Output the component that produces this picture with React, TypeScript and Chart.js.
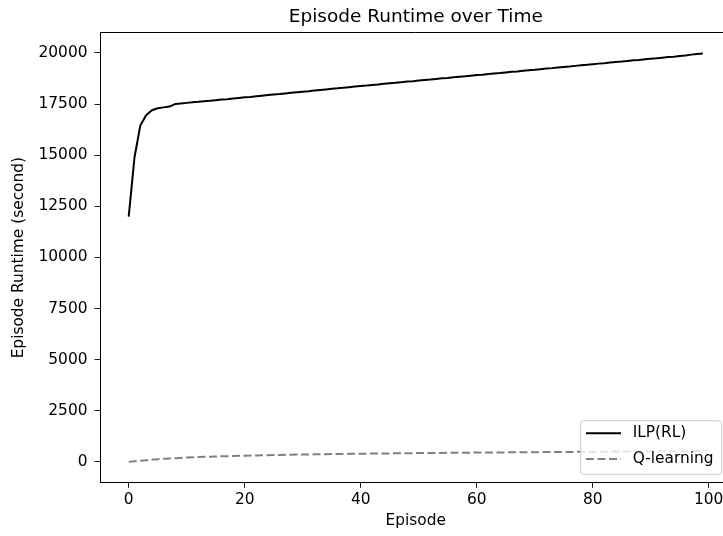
import React, { useEffect, useRef } from "react";
import { Chart, registerables } from "chart.js";

Chart.register(...registerables);

const chartTitle = "Episode Runtime over Time";
const xAxisTitle = "Episode";
const yAxisTitle = "Episode Runtime (second)";
const seriesNames = ["ILP(RL)", "Q-learning"];

// Episode runtime per episode (index = episode number 0..99)
const ilpRuntime = [
  12000, 14900, 16450, 16950, 17200, 17300, 17340, 17380, 17500, 17530,
  17560, 17590, 17610, 17640, 17660, 17690, 17720, 17740, 17770, 17800,
  17830, 17850, 17880, 17910, 17940, 17970, 17990, 18020, 18050, 18080,
  18110, 18130, 18160, 18190, 18220, 18250, 18270, 18300, 18330, 18360,
  18390, 18410, 18440, 18460, 18490, 18520, 18540, 18570, 18600, 18620,
  18650, 18680, 18700, 18730, 18760, 18780, 18810, 18840, 18860, 18890,
  18920, 18940, 18970, 19000, 19020, 19050, 19080, 19100, 19130, 19160,
  19180, 19210, 19240, 19260, 19290, 19320, 19340, 19370, 19400, 19420,
  19450, 19480, 19500, 19530, 19560, 19580, 19610, 19640, 19660, 19690,
  19720, 19740, 19770, 19800, 19820, 19850, 19880, 19920, 19950, 19980,
];

const qRuntime = [
  0, 30, 60, 85, 110, 130, 150, 165, 180, 195,
  210, 222, 235, 245, 255, 265, 273, 281, 290, 298,
  305, 311, 317, 323, 329, 335, 340, 345, 350, 355,
  360, 364, 368, 372, 376, 380, 384, 388, 392, 396,
  400, 403, 406, 409, 412, 415, 418, 421, 424, 427,
  430, 432, 435, 437, 440, 442, 445, 447, 450, 452,
  455, 457, 459, 461, 463, 465, 467, 469, 471, 473,
  475, 477, 479, 481, 483, 485, 487, 489, 491, 493,
  495, 497, 499, 501, 503, 505, 507, 509, 511, 513,
  515, 517, 518, 520, 521, 523, 525, 526, 528, 530,
];

const xTickValues = [0, 20, 40, 60, 80, 100];
const yTickValues = [0, 2500, 5000, 7500, 10000, 12500, 15000, 17500, 20000];

const xMin = -4.95;
const xMax = 103.95;
const yMin = -999;
const yMax = 20978;

const FONT = "'DejaVu Sans', sans-serif";

export default function App() {
  const ref = useRef<HTMLCanvasElement>(null);

  useEffect(() => {
    const canvas = ref.current;
    if (!canvas) return;

    const framePlugin = {
      id: "frame",
      afterDatasetsDraw(chart: any) {
        const { ctx, chartArea } = chart;
        const t = Math.round(chartArea.top) - 0.5;
        const r = Math.round(chartArea.right) - 0.5;
        ctx.save();
        ctx.strokeStyle = "#000";
        ctx.lineWidth = 1;
        ctx.beginPath();
        ctx.moveTo(chartArea.left, t);
        ctx.lineTo(r, t);
        ctx.lineTo(r, chartArea.bottom);
        ctx.stroke();
        ctx.restore();
      },
    };

    const legendPlugin = {
      id: "mplLegend",
      afterDraw(chart: any) {
        const { ctx, chartArea } = chart;
        const w = 141;
        const h = 53.6;
        const right = chartArea.right - 9.9;
        const bottom = chartArea.bottom - 8;
        const left = right - w;
        const top = bottom - h;
        const r = 3;
        ctx.save();
        ctx.beginPath();
        ctx.moveTo(left + r, top);
        ctx.lineTo(right - r, top);
        ctx.quadraticCurveTo(right, top, right, top + r);
        ctx.lineTo(right, bottom - r);
        ctx.quadraticCurveTo(right, bottom, right - r, bottom);
        ctx.lineTo(left + r, bottom);
        ctx.quadraticCurveTo(left, bottom, left, bottom - r);
        ctx.lineTo(left, top + r);
        ctx.quadraticCurveTo(left, top, left + r, top);
        ctx.closePath();
        ctx.fillStyle = "rgba(255,255,255,0.8)";
        ctx.fill();
        ctx.strokeStyle = "#cccccc";
        ctx.lineWidth = 1;
        ctx.stroke();

        const rows = [top + 12.6, top + 38.3];
        chart.data.datasets.forEach((ds: any, i: number) => {
          const y = rows[i];
          ctx.beginPath();
          ctx.setLineDash(ds.borderDash || []);
          ctx.strokeStyle = ds.borderColor;
          ctx.lineWidth = ds.borderWidth;
          ctx.moveTo(left + 5.3, y);
          ctx.lineTo(left + 40.3, y);
          ctx.stroke();
          ctx.setLineDash([]);
          ctx.fillStyle = "#000";
          ctx.font = `15.4px ${FONT}`;
          ctx.textBaseline = "middle";
          ctx.textAlign = "left";
          ctx.fillText(ds.label, left + 52, y);
        });
        ctx.restore();
      },
    };

    const tickFont = { family: FONT, size: 15.4 };

    const chart = new Chart(canvas, {
      type: "line",
      data: {
        datasets: [
          {
            label: seriesNames[0],
            data: ilpRuntime.map((v, i) => ({ x: i, y: v })),
            borderColor: "#000000",
            borderWidth: 2,
            pointRadius: 0,
            fill: false,
            tension: 0,
            borderJoinStyle: "round",
          },
          {
            label: seriesNames[1],
            data: qRuntime.map((v, i) => ({ x: i, y: v })),
            borderColor: "#808080",
            borderWidth: 2,
            borderDash: [8, 3.5],
            pointRadius: 0,
            fill: false,
            tension: 0,
          },
        ],
      },
      options: {
        responsive: false,
        animation: false,
        devicePixelRatio: 1,
        layout: { padding: { left: 0, right: 28.4, top: 0, bottom: 0 } },
        plugins: {
          legend: { display: false },
          tooltip: { enabled: false },
          title: {
            display: true,
            fullSize: false,
            text: chartTitle,
            color: "#000",
            font: { family: FONT, size: 18.5, weight: "normal" },
            padding: { top: 6.4, bottom: 4.4 },
          },
        },
        scales: {
          x: {
            type: "linear",
            min: xMin,
            max: xMax,
            afterFit: (s: any) => {
              s.height = 53.7;
            },
            afterBuildTicks: (s: any) => {
              s.ticks = xTickValues.map((v) => ({ value: v }));
            },
            ticks: {
              autoSkip: false,
              maxRotation: 0,
              color: "#000",
              font: tickFont,
              padding: 3.2,
              callback: (v: any) => String(v),
            },
            grid: {
              display: true,
              drawOnChartArea: false,
              drawTicks: true,
              tickLength: 5.5,
              tickColor: "#000",
              tickWidth: 0.9,
            },
            border: { display: true, color: "#000", width: 1 },
            title: {
              display: true,
              text: xAxisTitle,
              color: "#000",
              font: tickFont,
              padding: { top: 0, bottom: 5.4 },
            },
          },
          y: {
            type: "linear",
            min: yMin,
            max: yMax,
            afterFit: (s: any) => {
              s.width = 100;
            },
            afterBuildTicks: (s: any) => {
              s.ticks = yTickValues.map((v) => ({ value: v }));
            },
            ticks: {
              autoSkip: false,
              color: "#000",
              font: tickFont,
              padding: 7,
              callback: (v: any) => String(v),
            },
            grid: {
              display: true,
              drawOnChartArea: false,
              drawTicks: true,
              tickLength: 5.5,
              tickColor: "#000",
              tickWidth: 0.9,
            },
            border: { display: true, color: "#000", width: 1 },
            title: {
              display: true,
              text: yAxisTitle,
              color: "#000",
              font: tickFont,
              padding: { top: 10, bottom: 0 },
            },
          },
        },
      },
      plugins: [framePlugin, legendPlugin],
    } as any);

    return () => {
      chart.destroy();
    };
  }, []);

  return (
    <div
      style={{
        position: "absolute",
        left: 0,
        top: 0,
        width: 723,
        height: 536,
        overflow: "hidden",
        background: "#fff",
      }}
    >
      <canvas ref={ref} width={760} height={536} style={{ display: "block" }} />
    </div>
  );
}
